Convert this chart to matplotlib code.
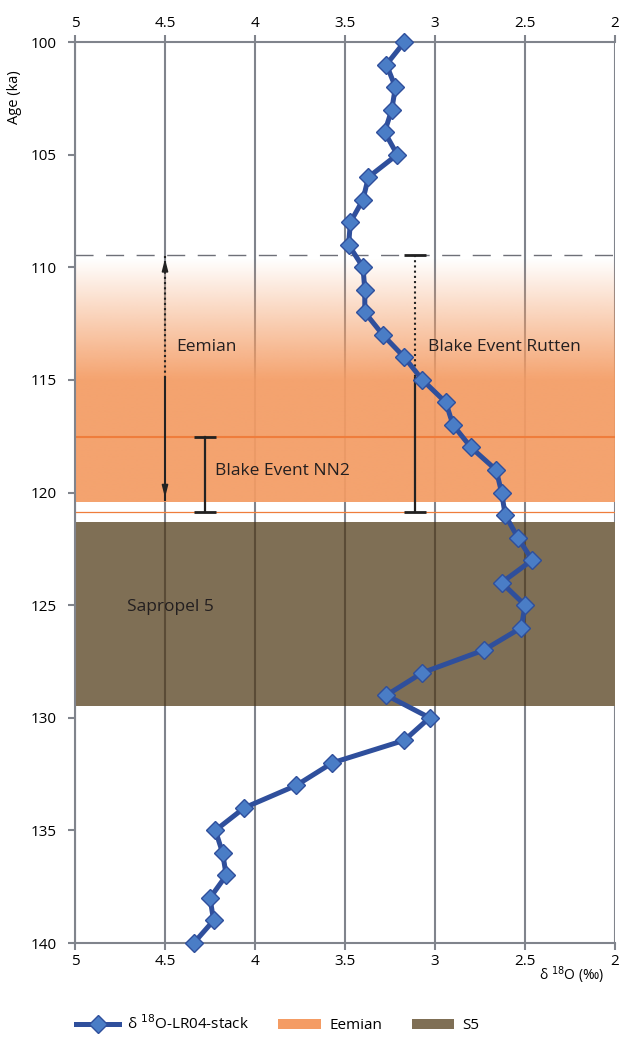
import numpy as np
import matplotlib
matplotlib.use('Agg')
from matplotlib import pyplot as plt
from matplotlib.patches import Patch
from matplotlib.lines import Line2D

plt.rcParams['font.family'] = ['Open Sans', 'DejaVu Sans']

# d18O LR04 stack, one value per ka
age = np.arange(100, 141)
d18o = [3.17, 3.27, 3.22, 3.24, 3.28, 3.21, 3.37, 3.40, 3.47, 3.48,
        3.40, 3.39, 3.39, 3.29, 3.17, 3.07, 2.94, 2.90, 2.80, 2.66,
        2.63, 2.61, 2.54, 2.46, 2.63, 2.50, 2.52, 2.73, 3.07, 3.27,
        3.03, 3.17, 3.57, 3.77, 4.06, 4.22, 4.18, 4.16, 4.25, 4.23,
        4.34]

x_ticks = [5, 4.5, 4, 3.5, 3, 2.5, 2]
x_labels = ['5', '4.5', '4', '3.5', '3', '2.5', '2']
y_ticks = [100, 105, 110, 115, 120, 125, 130, 135, 140]

eemian_top, eemian_full, eemian_bot = 109.6, 115.0, 120.43
eemian_line = 117.55
thin_line = 120.88
s5_top, s5_bot = 121.33, 129.5
dash_age = 109.44

eemian_arrow_x, eemian_arrow = 4.5, [109.5, 114.9, 120.35]
nn2_x, nn2 = 4.28, [117.55, 120.88]
rutten_x, rutten = 3.11, [109.47, 114.9, 120.88]

c_line = '#2f4f9c'
c_mark = '#4a7dc6'
c_orange = '#f49c64'
c_orange_line = '#ef7d3c'
c_brown = '#7f6f55'
c_grid = '#80848c'

fig = plt.figure(figsize=(6.19, 10.37), dpi=100)
ax = fig.add_axes([75/619, 1-943/1037, 540/619, 901/1037])
ax.set_xlim(5, 2)
ax.set_ylim(140, 100)

# gradient for Eemian
n = 400
grad_y = np.linspace(eemian_top, eemian_bot, n)
alpha = np.clip((grad_y - eemian_top) / (eemian_full - eemian_top), 0, 1)
rgba = np.zeros((n, 1, 4))
rgba[:, 0, :3] = matplotlib.colors.to_rgb(c_orange)
rgba[:, 0, 3] = alpha * 0.93
ax.imshow(rgba, extent=(5, 2, eemian_bot, eemian_top), aspect='auto', zorder=1, interpolation='bilinear')
ax.axhline(eemian_line, color=c_orange_line, lw=1.5, zorder=1.5)
ax.axhline(thin_line, color=c_orange_line, lw=0.9, zorder=1.5)
ax.axhspan(s5_top, s5_bot, color=c_brown, lw=0, zorder=1.2)

for xv in x_ticks:
    ax.axvline(xv, color=c_grid, lw=1.5, zorder=0.5)
ax.vlines(x_ticks[1:-1], s5_top, s5_bot, color='#5a4b36', lw=1.5, zorder=1.3)
ax.axhline(dash_age, color='#6e7078', lw=1.0, dashes=(13, 9), zorder=1.6)

# Eemian arrow
ax.plot([eemian_arrow_x]*2, eemian_arrow[:2], color='#222', lw=1.5, ls=(0, (1, 1.5)), zorder=3)
ax.plot([eemian_arrow_x]*2, eemian_arrow[1:], color='#222', lw=1.5, zorder=3)
ax.annotate('', xy=(eemian_arrow_x, eemian_arrow[0]), xytext=(eemian_arrow_x, eemian_arrow[0] + 0.6),
            arrowprops=dict(arrowstyle='-|>,head_length=0.7,head_width=0.18', color='#222', lw=1.2), zorder=3)
ax.annotate('', xy=(eemian_arrow_x, eemian_arrow[2]), xytext=(eemian_arrow_x, eemian_arrow[2] - 0.6),
            arrowprops=dict(arrowstyle='-|>,head_length=0.7,head_width=0.18', color='#222', lw=1.2), zorder=3)

# Blake events
ax.plot([nn2_x]*2, nn2, color='#222', lw=1.6, zorder=3)
ax.plot([nn2_x]*2, nn2, ls='none', marker='_', ms=16, mew=2, color='#222', zorder=3)
ax.plot([rutten_x]*2, rutten[:2], color='#222', lw=1.5, ls=(0, (1, 1.5)), zorder=3)
ax.plot([rutten_x]*2, rutten[1:], color='#222', lw=1.6, zorder=3)
ax.plot([rutten_x]*2, [rutten[0], rutten[2]], ls='none', marker='_', ms=16, mew=2, color='#222', zorder=3)

ax.text(4.44, 113.56, 'Eemian', fontsize=12.5, va='center', color='#231f20', zorder=4)
ax.text(4.22, 119.04, 'Blake Event NN2', fontsize=12.5, va='center', color='#231f20', zorder=4)
ax.text(3.04, 113.56, 'Blake Event Rutten', fontsize=12.5, va='center', color='#231f20', zorder=4)
ax.text(4.71, 125.1, 'Sapropel 5', fontsize=12.5, va='center', color='#231f20', zorder=4)

ax.plot(d18o, age, color=c_line, lw=3.6, marker='D', ms=9, mfc=c_mark, mec=c_line, mew=1.0, zorder=5,
        clip_on=False)

ax.set_xticks(x_ticks)
ax.set_xticklabels(x_labels)
ax.set_yticks(y_ticks)
ax.tick_params(axis='x', top=True, labeltop=True, direction='out', length=5, width=1.5, color=c_grid,
               labelsize=11, pad=3)
ax.tick_params(axis='y', direction='out', length=5, width=1.5, color=c_grid, labelsize=11, pad=8)
for s in ['top', 'bottom', 'left']:
    ax.spines[s].set_color(c_grid)
    ax.spines[s].set_linewidth(1.5)
ax.spines['right'].set_visible(False)

fig.text(14/619, 1-97/1037, 'Age (ka)', fontsize=10.5, rotation=90, ha='center', va='center')
fig.text(604/619, 1-975/1037, 'δ $^{18}$O (‰)', fontsize=10, ha='right', va='center')

handles = [Line2D([], [], color=c_line, lw=3.6, marker='D', ms=9, mfc=c_mark, mec=c_line),
           Patch(facecolor=c_orange, edgecolor='none'),
           Patch(facecolor=c_brown, edgecolor='none')]
fig.legend(handles, ['δ $^{18}$O-LR04-stack', 'Eemian', 'S5'], loc='center left',
           bbox_to_anchor=(70/619, 1-1024/1037), borderaxespad=0,
           ncol=3, frameon=False, fontsize=11, handlelength=2.8, columnspacing=1.9, handletextpad=0.55)

fig.savefig('out.png', dpi=100)
